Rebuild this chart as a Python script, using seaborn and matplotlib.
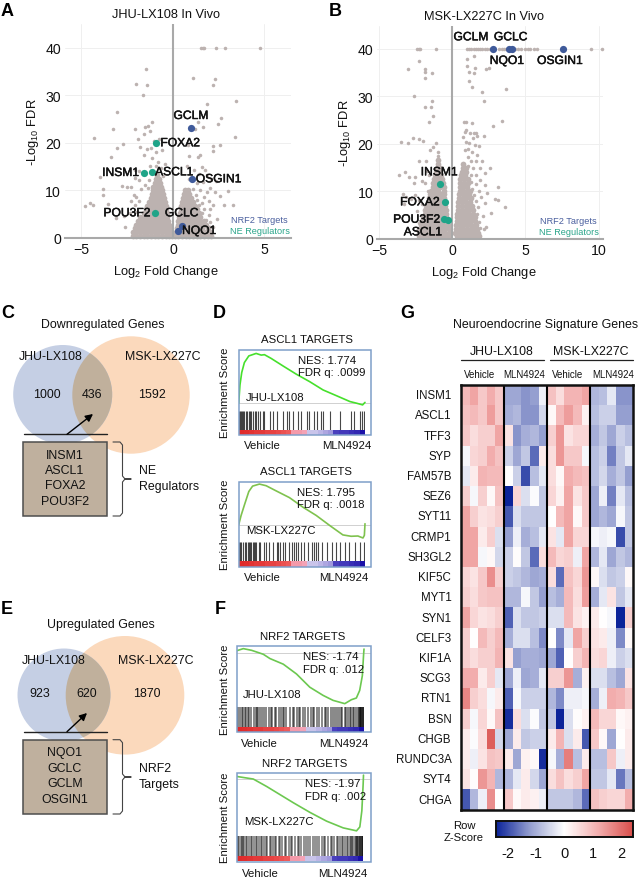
import matplotlib
matplotlib.use("Agg")
from matplotlib.colors import LinearSegmentedColormap
from matplotlib.patches import Circle, Rectangle
import matplotlib.patheffects as pe
import matplotlib.pyplot as plt
import pandas as pd
import seaborn as sns

W, H = 641, 878
GREY = "#bcb2b0"
NAVY = "#3f5a9a"
TEAL = "#1fa488"

# volcano A: solid mass of genes, row height -> x positions
a_mass_rows = {
    0.4: [-2.2, -2.0, -1.8, -1.6, -1.4, -1.2, -1.0, -0.8, -0.6, -0.4, -0.2, -0.05, 0.1, 0.3, 0.5, 0.7, 0.9, 1.1, 1.3, 1.5, 1.7, 1.9, 2.1],
    1.2: [-2.2, -2.0, -1.8, -1.6, -1.4, -1.2, -1.0, -0.8, -0.6, -0.4, -0.25, -0.1, 0.15, 0.35, 0.55, 0.75, 0.95, 1.15, 1.35, 1.55, 1.75, 2.0],
    2.0: [-2.1, -1.9, -1.7, -1.5, -1.3, -1.1, -0.9, -0.7, -0.5, -0.3, -0.15, 0.2, 0.4, 0.6, 0.8, 1.0, 1.2, 1.4, 1.6, 1.9],
    2.8: [-2.0, -1.8, -1.6, -1.4, -1.2, -1.0, -0.8, -0.6, -0.4, -0.2, 0.25, 0.45, 0.65, 0.85, 1.05, 1.25, 1.45, 1.65, 1.8],
    3.6: [-1.9, -1.7, -1.5, -1.3, -1.1, -0.9, -0.7, -0.5, -0.25, 0.3, 0.5, 0.7, 0.9, 1.1, 1.3, 1.5, 1.7],
    4.4: [-1.8, -1.6, -1.4, -1.2, -1.0, -0.8, -0.6, -0.45, -0.3, 0.35, 0.55, 0.75, 0.95, 1.15, 1.35, 1.5],
    5.2: [-1.6, -1.4, -1.2, -1.0, -0.8, -0.6, -0.35, 0.4, 0.6, 0.8, 1.0, 1.2, 1.4],
    6.0: [-1.5, -1.3, -1.1, -0.9, -0.7, -0.5, -0.4, 0.45, 0.65, 0.85, 1.05, 1.3],
    6.8: [-1.4, -1.2, -1.0, -0.8, -0.6, -0.4, 0.45, 0.65, 0.85, 1.05, 1.2],
    7.6: [-1.3, -1.1, -0.9, -0.7, -0.45, 0.5, 0.7, 0.9, 1.1],
    8.4: [-1.2, -1.0, -0.8, -0.65, -0.5, 0.55, 0.75, 1.0],
    9.2: [-1.15, -0.95, -0.75, -0.55, 0.6, 0.75, 0.9],
    10.0: [-1.1, -0.9, -0.75, -0.6, 0.65, 0.8],
    10.8: [-1.1, -0.9, -0.65],
    11.6: [-1.0, -0.85, -0.7],
    12.4: [-0.95, -0.75],
    13.2: [-0.85],
}
a_sparse = [
    (1.53, 40), (1.62, 40), (1.7, 40), (2.33, 40), (2.87, 40), (4.73, 40), (-1.5, 35.5), (-2.0, 32.4),
    (-1.43, 32.2), (-1.65, 30), (1.07, 33.6), (2.3, 33.4), (2.2, 32.2), (3.44, 28.9), (1.84, 28.1),
    (-3.07, 26.6), (2.65, 25.2), (-3.25, 23), (-2.07, 23), (-1.53, 23.3), (-1.16, 24.3), (-1.35, 23.6),
    (-1.25, 22.4), (-4.3, 21), (3.38, 21.2), (2.47, 24), (1.38, 24.3), (1.2, 22.9), (1.65, 23.3),
    (-1.6, 21.8), (-1.9, 20.8), (-1.05, 20.5), (-2.75, 19.8), (-3.07, 18.9), (2.2, 19.3), (2.55, 19.5),
    (2.2, 18.3), (-3.38, 17), (-3.98, 12.8), (-3.8, 10.3), (-3.8, 9), (-3.55, 7.1), (-4.78, 6.8),
    (-4.53, 7.4), (-4.35, 7), (-2.76, 11), (-2.5, 10.7), (-2.3, 10.7), (-2.15, 9), (2.98, 9.8),
    (2.55, 8.9), (3.3, 6.9), (2.38, 4), (2.8, 6.9), (2.2, 6.9), (-3.1, 4.2), (-2.7, 4.6), (-2.35, 5.3),
    (-2.6, 2.4), (-1.8, 19.2), (-1.4, 18.8), (-1.2, 19), (-0.75, 20.8), (-0.9, 18), (-0.6, 18.4),
    (-1.6, 17.5), (-1.15, 16.8), (-0.8, 16), (-1.25, 15.2), (-0.95, 15.2), (-0.65, 14.8), (-0.45, 15.5),
    (-2.1, 14.4), (-1.85, 14), (-1.85, 12.2), (-2.05, 12.6), (-0.55, 13), (-1.3, 12.3), (-1.55, 11.2),
    (-1.35, 10.6), (-1.75, 10.2), (-2.0, 8.6), (-1.85, 7.8), (-2.05, 6.9), (-2.3, 7.8), (-1.95, 5.4),
    (0.9, 17.2), (1.35, 17), (1.5, 17.5), (1.6, 14.9), (1.75, 14.4), (1.15, 14.2), (1.4, 13.4),
    (1.85, 13.2), (2.1, 12.5), (2.35, 12), (0.85, 12.4), (1.3, 11.5), (1.65, 11.8), (2.05, 10.5),
    (1.1, 10.4), (1.45, 10), (1.85, 9.7), (2.3, 9.7), (1.25, 9), (1.7, 8.7), (1.3, 8), (1.6, 7.4),
    (1.95, 7.8), (1.4, 6.9), (1.7, 6.2), (2.05, 6), (1.6, 5.2), (1.95, 4.8), (1.8, 3.8), (2.05, 3.4),
    (2.2, 2.3), (2.0, 2.4), (0.8, 19.5), (0.75, 15.2),
]
a_nrf2 = [("GCLM", 1.0, 23.2), ("OSGIN1", 1.05, 12.4), ("GCLC", 0.5, 2.6), ("NQO1", 0.27, 1.5)]
a_ne = [("FOXA2", -0.9, 20.0), ("INSM1", -1.58, 13.7), ("ASCL1", -1.15, 13.8), ("POU3F2", -0.98, 5.3)]

# volcano B
b_mass_rows = {
    0.5: [-2.25, -2.0, -1.75, -1.5, -1.25, -1.0, -0.75, -0.5, -0.25, 0.3, 0.55, 0.8, 1.05, 1.3, 1.55, 1.85],
    1.3: [-2.3, -2.05, -1.8, -1.55, -1.3, -1.05, -0.8, -0.55, -0.2, 0.2, 0.45, 0.7, 0.95, 1.2, 1.45, 1.75],
    2.1: [-2.25, -2.0, -1.75, -1.5, -1.25, -1.0, -0.75, -0.5, -0.25, 0.25, 0.5, 0.75, 1.0, 1.25, 1.5, 1.7],
    2.9: [-2.15, -1.9, -1.65, -1.4, -1.15, -0.9, -0.65, -0.3, 0.25, 0.5, 0.75, 1.0, 1.25, 1.6],
    3.7: [-2.1, -1.85, -1.6, -1.35, -1.1, -0.85, -0.6, -0.35, 0.3, 0.55, 0.8, 1.05, 1.3, 1.55],
    4.5: [-2.0, -1.75, -1.5, -1.25, -1.0, -0.75, -0.4, 0.35, 0.6, 0.85, 1.1, 1.35, 1.55],
    5.3: [-1.9, -1.65, -1.4, -1.15, -0.9, -0.65, -0.45, 0.35, 0.6, 0.85, 1.1, 1.4],
    6.1: [-1.85, -1.6, -1.35, -1.1, -0.85, -0.6, -0.45, 0.4, 0.65, 0.9, 1.15, 1.4],
    6.9: [-1.8, -1.55, -1.3, -1.05, -0.8, -0.5, 0.4, 0.65, 0.9, 1.15, 1.35],
    7.7: [-1.65, -1.4, -1.15, -0.9, -0.65, -0.5, 0.4, 0.65, 0.9, 1.2],
    8.5: [-1.6, -1.35, -1.1, -0.85, -0.55, 0.45, 0.7, 0.95, 1.25],
    9.3: [-1.5, -1.25, -1.0, -0.75, -0.55, 0.45, 0.7, 0.95, 1.15],
    10.1: [-1.45, -1.2, -0.95, -0.6, 0.5, 0.75, 1.0, 1.2],
    10.9: [-1.35, -1.1, -0.85, -0.6, 0.5, 0.75, 1.0],
    11.7: [-1.3, -1.05, -0.65, 0.55, 0.8, 1.05],
    12.5: [-1.25, -1.0, -0.7, 0.55, 0.8, 1.05],
    13.3: [-1.2, -0.95, -0.75, 0.6, 0.85],
    14.1: [-1.15, -0.9, 0.65, 0.9],
    14.9: [-1.05, -0.85, 0.7, 0.9],
    15.7: [-1.0, 0.75],
    16.5: [-0.95],
}
b_sparse = [
    (-2.45, 40), (-2.3, 40), (-2.2, 40), (-1.15, 40), (1.0, 40), (1.15, 40), (1.3, 40), (1.45, 40),
    (1.6, 40), (1.75, 40), (1.9, 40), (2.05, 40), (2.2, 40), (2.4, 40), (2.6, 40), (3.2, 40), (3.4, 40),
    (3.55, 40), (3.7, 40), (4.3, 40), (4.5, 40), (4.7, 40), (5.0, 40), (5.2, 40), (5.3, 40), (5.55, 40),
    (5.8, 40), (9.5, 40), (10.25, 40), (-3, 35.6), (-2.25, 37.3), (-1.9, 35.6), (-1.84, 35), (-1.4, 34.9),
    (-1.9, 33.8), (-2.65, 30.1), (-1.4, 29), (-1.84, 27.6), (-1.45, 27.6), (-1.3, 25.9), (-1.6, 24.6),
    (-3.5, 20.3), (-3.05, 20.2), (-2.7, 21.1), (-2.25, 21), (-2.0, 20.6), (-1.1, 20.2), (-3.65, 13.3),
    (-3.25, 14.1), (-2.95, 12.9), (-2.25, 16.3), (-1.8, 16.3), (-1.55, 18.6), (-1.3, 19.2), (-1.0, 18.3),
    (-0.95, 17.4), (-2.55, 13), (-2.6, 11.8), (-2.1, 12.2), (-1.85, 11.7), (-3.4, 9.3), (-3.2, 8.8),
    (-3.3, 7.2), (-2.85, 8.4), (-2.55, 9.2), (-2.3, 8.1), (-2.4, 5.8), (-2.05, 7.2), (-2.3, 3.4),
    (-1.75, 14.2), (-1.6, 13.5), (-1.65, 10.1), (1, 37.8), (1.5, 38.5), (1, 36.4), (1.53, 35.9), (1.12, 35),
    (1.47, 34.9), (2.3, 35.7), (2.53, 36), (1.16, 33.1), (1.35, 32), (2, 30.8), (2.16, 29), (3.67, 31.4),
    (0.77, 24.6), (0.9, 24.6), (1.35, 24.3), (2.8, 23.8), (3.4, 24.8), (0.88, 22.4), (0.95, 22.8),
    (1.2, 22.2), (1.5, 22.2), (1.65, 22.2), (1.4, 21.2), (1.7, 21.6), (2.15, 21.7), (0.75, 21.3), (0.9, 20.4),
    (1.15, 20.2), (1.55, 19.8), (1.85, 19.6), (0.85, 18.6), (1.05, 18.8), (1.35, 18.3), (1.7, 17.7),
    (1.1, 17.2), (1.3, 16.3), (1.6, 16.3), (2.05, 16.4), (2.6, 14.8), (1.1, 15.2), (1.4, 14.8), (1.9, 14.8),
    (2.25, 13.8), (1.3, 13.4), (1.65, 13.3), (1.9, 12.4), (1.3, 11.9), (1.6, 11.4), (2.2, 11.2), (3.1, 10.8),
    (1.35, 10.4), (1.85, 10.1), (2.4, 9.6), (1.5, 9.2), (1.95, 8.7), (2.95, 8.3), (3.1, 8.2), (1.6, 8),
    (2.2, 7.6), (3.63, 6.7), (1.75, 6.7), (2.65, 5.5), (1.7, 5.2), (2.1, 4.7), (1.8, 3.6), (2.3, 2.4),
    (2.15, 2.1), (1.9, 2.2),
]
b_nrf2 = [("GCLM", 3.9, 40), ("GCLC", 4.07, 40), ("NQO1", 2.81, 40), ("OSGIN1", 7.58, 40)]
b_ne = [("INSM1", -0.84, 11.4), ("FOXA2", -0.53, 7.8), ("POU3F2", -0.56, 4.1), ("ASCL1", -0.33, 3.9)]

# enrichment curves
d1_rank = [0, 0.01, 0.024, 0.045, 0.08, 0.138, 0.178, 0.204, 0.257, 0.35, 0.456, 0.562, 0.668, 0.775, 0.881, 0.934, 0.981, 1.0]
d1_es = [0, 0.22, 0.37, 0.49, 0.57, 0.60, 0.58, 0.585, 0.54, 0.45, 0.35, 0.26, 0.16, 0.09, 0.02, 0.0, -0.02, 0.01]
d2_rank = [0, 0.019, 0.045, 0.08, 0.11, 0.164, 0.217, 0.296, 0.402, 0.508, 0.614, 0.72, 0.825, 0.89, 0.944, 0.984, 0.995, 1.0]
d2_es = [0, 0.137, 0.29, 0.49, 0.57, 0.6, 0.576, 0.50, 0.40, 0.26, 0.137, -0.01, -0.15, -0.17, -0.166, -0.195, -0.156, 0.015]
f1_rank = [0, 0.052, 0.117, 0.209, 0.261, 0.366, 0.47, 0.574, 0.679, 0.757, 0.849, 0.901, 0.94, 0.966, 0.987, 0.997, 1.0]
f1_es = [0.03, 0.055, 0.035, -0.012, -0.063, -0.13, -0.247, -0.404, -0.502, -0.561, -0.6, -0.553, -0.533, -0.443, -0.267, -0.012, 0.05]
f2_rank = [0, 0.131, 0.236, 0.341, 0.446, 0.577, 0.709, 0.84, 0.945, 0.971, 0.987, 0.997, 1.0]
f2_es = [0.03, 0, -0.086, -0.18, -0.274, -0.386, -0.488, -0.566, -0.6, -0.555, -0.3675, -0.0675, 0.045]

d1_hits = [0.0, 0.008, 0.016, 0.024, 0.035, 0.045, 0.055, 0.062, 0.08, 0.09, 0.1, 0.11, 0.13, 0.14, 0.15, 0.165, 0.19, 0.2,
           0.25, 0.27, 0.3, 0.35, 0.38, 0.4, 0.43, 0.47, 0.49, 0.54, 0.56, 0.6, 0.62, 0.65, 0.67, 0.72, 0.8, 0.89, 0.91, 0.96, 0.98, 0.995]
d2_hits = [0.0, 0.01, 0.02, 0.035, 0.05, 0.06, 0.07, 0.08, 0.09, 0.1, 0.11, 0.12, 0.13, 0.14, 0.16, 0.17, 0.2, 0.22, 0.24, 0.27,
           0.3, 0.31, 0.33, 0.35, 0.37, 0.4, 0.42, 0.44, 0.45, 0.47, 0.49, 0.52, 0.55, 0.58, 0.6, 0.61, 0.63, 0.66, 0.7, 0.74, 0.77, 0.8,
           0.84, 0.87, 0.92, 0.96, 0.99]
f1_hits = [0.0, 0.012, 0.025, 0.04, 0.05, 0.065, 0.075, 0.09, 0.1, 0.115, 0.135, 0.15, 0.16, 0.17, 0.185, 0.2, 0.215, 0.23, 0.25, 0.27,
           0.28, 0.3, 0.31, 0.33, 0.35, 0.36, 0.375, 0.39, 0.42, 0.44, 0.45, 0.47, 0.49, 0.5, 0.52, 0.54, 0.56, 0.58, 0.6, 0.61, 0.63, 0.65,
           0.67, 0.69, 0.7, 0.72, 0.74, 0.76, 0.77, 0.79, 0.8, 0.82, 0.83, 0.85, 0.86, 0.875, 0.89, 0.9, 0.91, 0.925, 0.94, 0.95, 0.96, 0.965,
           0.97, 0.975, 0.98, 0.985, 0.99, 0.995, 1.0]
f2_hits = [0.0, 0.01, 0.02, 0.03, 0.04, 0.05, 0.06, 0.075, 0.085, 0.1, 0.11, 0.12, 0.135, 0.15, 0.16, 0.175, 0.19, 0.2, 0.215, 0.23, 0.24,
           0.26, 0.27, 0.285, 0.3, 0.31, 0.33, 0.345, 0.36, 0.38, 0.39, 0.41, 0.43, 0.44, 0.46, 0.48, 0.49, 0.51, 0.53, 0.55, 0.56, 0.58, 0.6,
           0.62, 0.63, 0.65, 0.67, 0.69, 0.7, 0.72, 0.74, 0.75, 0.77, 0.79, 0.8, 0.815, 0.83, 0.84, 0.855, 0.87, 0.88, 0.89, 0.9, 0.91, 0.92,
           0.93, 0.94, 0.945, 0.95, 0.96, 0.965, 0.97, 0.975, 0.98, 0.985, 0.99, 0.995, 1.0]
strip_values = [1, 0.98, 0.95, 0.9, 0.9, 0.85, 0.85, 0.8, 0.75, 0.7, 0.35, 0.35, 0.3, -0.2, -0.2, -0.25, -0.3, -0.35, -0.7, -0.75, -0.75, -0.8, -0.85, -1]

# heatmap
genes = ["INSM1", "ASCL1", "TFF3", "SYP", "FAM57B", "SEZ6", "SYT11", "CRMP1", "SH3GL2", "KIF5C", "MYT1",
         "SYN1", "CELF3", "KIF1A", "SCG3", "RTN1", "BSN", "CHGB", "RUNDC3A", "SYT4", "CHGA"]
heat_values = [
    [1.0, 1.3, 0.8, 1.2, 0.8, -1.1, -1.1, -1.3, -1.2, -0.2, 0.9, 0.5, 1.1, 1.1, 1.3, -0.9, -0.8, -0.3, -1.3, -1.3],
    [0.9, 1.0, 0.8, 1.4, 0.8, -1.0, -0.9, -1.3, -1.3, -0.5, 0.1, 1.0, 1.4, 1.0, 0.2, -0.8, -0.6, -0.6, -1.2, -1.2],
    [0.8, 0.5, 0.7, 0.7, 1.3, 0.4, -1.3, -1.0, -0.9, -1.2, 0.7, 1.5, 0.4, 0.6, 0.6, -1.0, -0.7, -1.1, -0.6, -0.8],
    [-0.1, 0.6, 0.7, 1.2, 0.9, -0.6, -1.1, -0.7, -1.7, 0.3, 0.5, 1.5, 0.8, 0.8, -0.1, -0.8, -0.6, -1.5, -0.7, -0.3],
    [-0.3, 0.3, 1.1, 1.0, 1.0, 0.0, -0.6, -2.0, -0.8, -0.3, 0.5, 0.1, 1.2, 1.0, 0.9, -0.8, -0.5, -1.0, -0.7, -1.2],
    [0.7, -0.1, 0.7, 0.1, 0.9, -2.4, 0.6, -0.4, -0.05, -0.7, 0.6, 0.2, 1.3, 0.4, 0.8, -1.1, -0.2, -1.5, -0.3, -0.8],
    [1.3, 0.7, 0.4, 0.5, 0.7, -1.9, -0.4, -0.7, -0.7, -0.7, 0.0, 1.0, 1.3, 0.1, 0.8, -1.1, -0.9, -1.1, -0.1, -0.7],
    [1.3, 1.3, 0.3, 0.7, -0.4, -1.2, -0.2, -1.0, -0.8, -0.3, 0.4, -0.3, 1.3, 0.6, 0.6, -0.1, -0.2, -0.1, -2.0, -0.7],
    [1.3, 1.3, -0.1, 0.1, -0.5, -0.6, 0.05, -0.7, -1.7, 0.5, 1.0, 0.6, 0.7, -0.2, 1.3, -0.9, -0.3, -1.1, -0.7, -0.9],
    [0.6, 0.4, 0.8, 1.6, 0.7, -0.6, -0.7, -0.9, -1.1, -1.0, 0.5, -1.7, 0.9, 0.6, 1.5, 0.1, -0.4, -0.7, -0.6, 0.1],
    [0.7, 0.5, 0.8, 0.9, 0.9, -0.9, -0.9, -0.1, -0.7, -1.2, -0.8, -1.0, 1.0, 0.5, 1.4, -1.0, -0.3, 0.4, -0.7, -0.3],
    [1.3, 0.6, 0.4, 0.5, 0.7, -1.8, -0.4, -0.7, -0.7, -0.6, -0.4, -0.4, 1.0, 0.4, 0.2, 0.3, 0.0, -0.1, -2.4, 0.7],
    [0.7, 0.0, 1.0, 0.7, 1.0, -1.0, -0.4, -0.4, -0.8, -1.4, 0.0, -1.4, -0.3, 1.3, 0.7, 0.4, 0.3, -0.2, -1.4, 0.1],
    [0.7, 0.5, 0.7, 0.7, 1.1, 0.4, -1.2, -1.0, -1.0, -1.1, -1.1, -1.8, 0.0, 0.7, 1.1, 0.5, 0.6, -0.2, -0.6, -0.4],
    [1.2, 1.2, 0.3, 0.7, -0.3, -1.1, -0.2, -1.1, -1.0, -0.3, 0.7, 0.7, 1.5, -1.0, 0.2, -0.4, -0.4, -0.8, -1.1, 0.4],
    [1.7, 0.7, 0.5, -0.1, 0.3, -1.8, -0.1, -0.6, -0.6, -0.6, -0.9, -1.4, -0.2, -0.2, -0.1, -1.0, -0.2, 1.2, 1.1, 0.8],
    [0.7, -0.1, 0.6, 0.1, 0.9, -2.3, 0.5, -0.4, -0.05, -0.7, -0.7, -2.4, -0.4, 0.05, 0.2, 1.0, 0.6, 0.6, 0.1, 0.2],
    [0.3, -0.05, 0.5, 2.2, -0.5, -1.1, 0.3, -0.7, -0.6, -0.6, 0.3, 1.1, -0.4, 0.3, -1.9, 0.8, 0.1, -1.1, 0.0, 0.3],
    [0.3, -0.2, 0.4, 0.9, 0.8, 0.3, -1.1, 0.2, 0.1, -2.3, -0.1, -1.0, 1.8, -0.8, 0.3, -0.8, -0.8, 0.8, -0.2, 0.3],
    [0.4, 0.05, 1.5, 1.1, -0.9, -0.9, -0.3, 0.3, -0.5, -1.1, 0.5, 0.9, 0.5, 0.7, 1.3, -0.7, -0.7, -0.3, -1.6, -0.8],
    [-1.9, -0.9, -0.2, 1.6, 0.0, 0.8, 0.1, 0.3, 0.2, -0.2, -0.7, -0.7, -0.7, -0.9, -1.7, 0.9, 0.7, 0.6, 0.6, 1.2],
]
cbar_ticks = [-2, -1, 0, 1, 2]
cbar_labels = ["-2", "-1", "0", "1", "2"]

sns.set_theme(style="white")
plt.rcParams["font.family"] = ["Liberation Sans", "DejaVu Sans"]
plt.rcParams["mathtext.default"] = "regular"
plt.rcParams["text.color"] = "#111111"

fig = plt.figure(figsize=(W / 100, H / 100), dpi=100)


def axes_px(left, top, right, bottom):
    return fig.add_axes([left / W, 1 - bottom / H, (right - left) / W, (bottom - top) / H])


overlay = axes_px(0, 0, W, H)
overlay.set_xlim(0, W)
overlay.set_ylim(H, 0)
overlay.axis("off")
overlay.set_zorder(10)
overlay.patch.set_alpha(0)


def put(x, y, text, size=8.9, ha="center", **kw):
    return overlay.text(x, y, text, fontsize=size, ha=ha, va="center", **kw)


def gene_label(x, y, text):
    put(x, y, text, size=8.7, color="#111111",
        path_effects=[pe.withStroke(linewidth=0.35, foreground="#111111")])


def volcano(box, xlim, ylim, mass_rows, sparse, nrf2, ne, title, xticks, title_x):
    ax = axes_px(*box)
    mass = pd.DataFrame([(x, y) for y, xs in mass_rows.items() for x in xs], columns=["lfc", "fdr"])
    scatter = pd.DataFrame(sparse, columns=["lfc", "fdr"])
    sns.scatterplot(data=mass, x="lfc", y="fdr", color=GREY, s=17, linewidth=0, ax=ax, clip_on=False)
    sns.scatterplot(data=scatter, x="lfc", y="fdr", color=GREY, s=6.5, linewidth=0, ax=ax, clip_on=False)
    nrf2_df = pd.DataFrame(nrf2, columns=["gene", "lfc", "fdr"])
    ne_df = pd.DataFrame(ne, columns=["gene", "lfc", "fdr"])
    sns.scatterplot(data=nrf2_df, x="lfc", y="fdr", color=NAVY, s=27, linewidth=0, ax=ax, zorder=4)
    sns.scatterplot(data=ne_df, x="lfc", y="fdr", color=TEAL, s=27, linewidth=0, ax=ax, zorder=4)
    ax.set_xlim(*xlim)
    ax.set_ylim(*ylim)
    ax.set_xticks(xticks)
    ax.set_yticks([0, 10, 20, 30, 40])
    ax.grid(True, color="#efefef", lw=0.7)
    ax.set_axisbelow(True)
    ax.axvline(0, color="#a9a9a9", lw=1.5, zorder=1.5)
    for side in ["top", "right", "left"]:
        ax.spines[side].set_visible(False)
    ax.spines["bottom"].set_color("#a9a9a9")
    ax.spines["bottom"].set_linewidth(1.5)
    ax.tick_params(length=0, labelsize=10.2, pad=3, colors="#111111")
    ax.set_title(title, fontsize=9.2, pad=5, color="#111111", x=title_x)
    ax.set_xlabel("Log$_2$ Fold Change", fontsize=9.3, labelpad=5, color="#111111", x=title_x)
    ax.set_ylabel("-Log$_{10}$ FDR", fontsize=9.3, labelpad=3, color="#111111")
    return ax


def gsea(box, curve_bottom, rug_top, strip_top, curve_right, rank, es, hits, ylim, line_color, line_alpha, line_width):
    left, top, right, bottom = box
    ax = axes_px(left, top, right, curve_bottom)
    sns.lineplot(x=rank, y=es, sort=False, color=line_color, lw=1.2, ax=ax, estimator=None)
    ax.axhline(0, color="#d0d0d0", lw=0.7, zorder=1)
    ax.set_xlim(0, (right - left) / (curve_right - left))
    ax.set_ylim(*ylim)
    ax.set_xticks([])
    ax.set_yticks([])
    sns.despine(ax=ax, left=True, bottom=True)

    rug = axes_px(left, rug_top, curve_right, strip_top)
    rug.vlines(hits, 0, 1, color="black", lw=line_width, alpha=line_alpha)
    rug.set_xlim(0, 1)
    rug.set_ylim(0, 1)
    rug.axis("off")

    strip = axes_px(left, strip_top, curve_right, bottom - 0.5)
    sns.heatmap([strip_values], cmap=strip_cmap, vmin=-1, vmax=1, cbar=False, xticklabels=False,
                yticklabels=False, ax=strip)
    overlay.add_patch(Rectangle((left, top), right - left, bottom - top, fill=False, ec="#7f9fc9", lw=1.1))


strip_cmap = LinearSegmentedColormap.from_list(
    "rank", ["#1a10a8", "#5a50c4", "#c9c4ea", "#f5b6d0", "#f26a6a", "#e02a2a"])

# A / B volcanoes
volcano((65, 25, 291, 239), (-5.9, 6.45), (0, 45), a_mass_rows, a_sparse, a_nrf2, a_ne, "JHU-LX108 In Vivo", [-5, 0, 5], 0.445)
volcano((377.3, 26.7, 603, 239.7), (-5.13, 10.3), (0, 44.8), b_mass_rows, b_sparse, b_nrf2, b_ne, "MSK-LX227C In Vivo", [-5, 0, 5, 10], 0.473)
for x, y, t in [(191, 117, "GCLM"), (180.3, 144.3, "FOXA2"), (120.7, 174, "INSM1"), (174.3, 173.3, "ASCL1"),
                (218.7, 180.3, "OSGIN1"), (127, 214.3, "POU3F2"), (181.7, 214.3, "GCLC"), (199.3, 232, "NQO1"),
                (471, 38.3, "GCLM"), (510.7, 38.3, "GCLC"), (507, 62, "NQO1"), (560, 62, "OSGIN1"),
                (439.3, 173.3, "INSM1"), (420, 203.3, "FOXA2"), (416.7, 220.7, "POU3F2"), (423, 233.3, "ASCL1")]:
    gene_label(x, y, t)
put(288, 221, "NRF2 Targets", size=6.6, ha="right", color="#4a5f9e")
put(290, 232, "NE Regulators", size=6.6, ha="right", color="#2aa58a")
put(597, 222, "NRF2 Targets", size=6.6, ha="right", color="#4a5f9e")
put(599, 233, "NE Regulators", size=6.6, ha="right", color="#2aa58a")

# panel letters
for x, y, t in [(1, 11, "A"), (329, 11, "B"), (1, 314, "C"), (213, 314, "D"), (1, 610, "E"), (215, 610, "F"), (400, 314, "G")]:
    put(x, y, t, size=13, ha="left", weight="bold", color="black")


def venn(blue, orange, box_top, box_bottom, line_y, arrow_to, brace_mid, brace_text, brace_y, title, title_xy, names, counts, box_text):
    blue_fill = Circle(blue[:2], blue[2], color="#c5cfe4", lw=0)
    orange_fill = Circle(orange[:2], orange[2], color="#fbd9bc", lw=0)
    overlay.add_patch(orange_fill)
    overlay.add_patch(blue_fill)
    both = Circle(orange[:2], orange[2], color="#c0b09c", lw=0)
    overlay.add_patch(both)
    both.set_clip_path(Circle(blue[:2], blue[2], transform=overlay.transData))
    overlay.add_patch(Rectangle((23.3, box_top), 83.4, box_bottom - box_top, fc="#bfb09e", ec="#4d4d4d", lw=1.1))
    overlay.plot([24, 107], [line_y, line_y], color="#222222", lw=1)
    overlay.annotate("", xy=arrow_to, xytext=(67, line_y),
                     arrowprops=dict(arrowstyle="-|>", color="black", lw=1, mutation_scale=11, shrinkA=0, shrinkB=0))
    overlay.plot([113, 120, 122.5, 122.5, 125, 131, 125, 122.5, 122.5, 120, 113],
                 [box_top, box_top, box_top + 3, brace_mid - 3, brace_mid, brace_mid, brace_mid, brace_mid + 3,
                  box_bottom - 3, box_bottom, box_bottom], color="#444444", lw=0.8)
    put(*title_xy, title)
    for x, y, t in names + counts:
        put(x, y, t)
    for y, t in box_text:
        put(65, y, t)
    put(138.5, brace_y[0], brace_text[0], ha="left")
    put(138.5, brace_y[1], brace_text[1], ha="left")


venn((62.7, 395.5, 49.5), (131, 396, 58.7), 443, 517, 435.3, (93, 415), 480, ["NE", "Regulators"], (471, 486.7),
     "Downregulated Genes", (102.7, 325), [(50.7, 357, "JHU-LX108"), (163, 357, "MSK-LX227C")],
     [(47, 395, "1000"), (92, 395, "436"), (152, 395, "1592")],
     [(455.7, "INSM1"), (471, "ASCL1"), (486, "FOXA2"), (501.7, "POU3F2")])
venn((64, 696, 46.5), (125, 696.3, 59.3), 740.7, 815, 732.7, (87, 714), 778, ["NRF2", "Targets"], (769, 785),
     "Upregulated Genes", (100.7, 625), [(54, 660.7, "JHU-LX108"), (156, 660.7, "MSK-LX227C")],
     [(40, 694, "923"), (87, 694, "620"), (147.3, 694, "1870")],
     [(753.3, "NQO1"), (768.7, "GCLC"), (784.3, "GCLM"), (799.7, "OSGIN1")])

# D / F enrichment plots
gsea((238.7, 350.7, 371, 436), 411.7, 411.7, 430.7, 365, d1_rank, d1_es, d1_hits, (-0.09, 0.645), "#46e02c", 0.72, 0.8)
gsea((238.7, 482.7, 371, 568), 542.7, 542.7, 562, 365, d2_rank, d2_es, d2_hits, (-0.25, 0.635), "#7fc24e", 0.72, 0.8)
gsea((236.7, 646.7, 370.7, 733), 708, 708, 727.7, 364, f1_rank, f1_es, f1_hits, (-0.64, 0.09), "#6cc850", 0.55, 1.2)
gsea((236.7, 774, 370.7, 862.7), 837, 837, 856.7, 363.5, f2_rank, f2_es, f2_hits, (-0.66, 0.07), "#6cc850", 0.5, 1.2)

gsea_text = [
    (307, 340, "ASCL1 TARGETS", 298, 360.7, 373, "NES: 1.774", "FDR q: .0099", 246, 397.7, "JHU-LX108", 262, 346.7, 445.7, 393),
    (305.7, 471.7, "ASCL1 TARGETS", 296.7, 493, 505, "NES: 1.795", "FDR q: .0018", 246, 531, "MSK-LX227C", 262, 344, 578, 525),
    (303, 636.7, "NRF2 TARGETS", 303, 657, 670, "NES: -1.74", "FDR q: .012", 243, 695, "JHU-LX108", 259, 344, 744, 690),
    (305, 764, "NRF2 TARGETS", 304.7, 784, 797, "NES: -1.97", "FDR q: .002", 244, 821.7, "MSK-LX227C", 260.7, 342.7, 874, 818),
]
for tx, ty, title, nx, ny, fy, nes, fdr, lx, ly, line, vx, mx, by, yy in gsea_text:
    put(tx, ty, title, size=8.2)
    put(nx, ny, nes, size=8.2, ha="left")
    put(nx, fy, fdr, size=8.2, ha="left")
    put(lx, ly, line, size=8.2, ha="left")
    put(vx, by, "Vehicle", size=8.2)
    put(mx, by, "MLN4924", size=8.2)
    put(225, yy, "Enrichment Score", size=8.2, rotation=90)

# G heatmap
heat_cmap = LinearSegmentedColormap.from_list("zscore", ["#0b2399", "#959fd0", "#ffffff", "#f2adad", "#d94f4b"])
heat_ax = axes_px(461, 386, 633.3, 810.7)
cbar_ax = axes_px(496, 821.7, 632.7, 838.3)
heat_df = pd.DataFrame(heat_values, index=genes)
sns.heatmap(heat_df, cmap=heat_cmap, vmin=-2.41, vmax=2.41, xticklabels=False, yticklabels=True, ax=heat_ax,
            cbar_ax=cbar_ax, cbar_kws={"orientation": "horizontal"})
heat_ax.tick_params(axis="y", length=0, labelsize=8.3, pad=7, rotation=0, labelcolor="#111111")
for col in [5, 10, 15]:
    heat_ax.axvline(col, color="black", lw=1.5)
for spine in heat_ax.spines.values():
    spine.set_visible(True)
    spine.set_color("#111111")
    spine.set_linewidth(1.8)

cbar_ax.set_xticks(cbar_ticks, cbar_labels)
cbar_ax.tick_params(axis="x", direction="in", top=True, bottom=True, length=3, width=1.3, labelsize=10.5, pad=6,
                    color="black", labelcolor="#111111")
for spine in cbar_ax.spines.values():
    spine.set_visible(True)
    spine.set_color("#111111")
    spine.set_linewidth(1.3)

put(546, 325, "Neuroendocrine Signature Genes", size=8.9)
put(502, 352, "JHU-LX108", size=8.9)
put(591, 352, "MSK-LX227C", size=8.9)
overlay.plot([461, 544], [361, 361], color="#222222", lw=0.9)
overlay.plot([550, 633], [361, 361], color="#222222", lw=0.9)
for x, t in [(480, "Vehicle"), (524, "MLN4924"), (568, "Vehicle"), (613, "MLN4924")]:
    put(x, 375, t, size=7)
put(464, 826, "Row", size=8.1)
put(464, 838, "Z-Score", size=8.1)

fig.savefig("out.png", dpi=100)
